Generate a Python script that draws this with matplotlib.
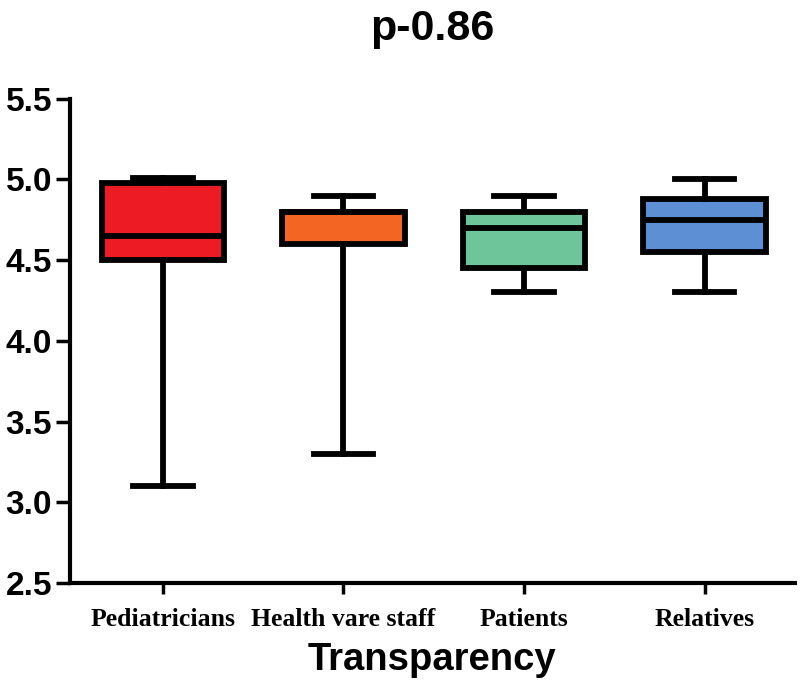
import matplotlib.pyplot as plt
import numpy as np

groups = ["Pediatricians", "Health vare staff", "Patients", "Relatives"]
whislo = [3.10, 3.30, 4.30, 4.30]
q1 = [4.50, 4.60, 4.45, 4.55]
med = [4.65, 4.80, 4.70, 4.75]
q3 = [4.98, 4.80, 4.80, 4.88]
whishi = [5.01, 4.90, 4.90, 5.00]
colors = ["#ED1C24", "#F26522", "#6EC59A", "#5C8FD4"]

stats = []
for i in range(len(groups)):
    stats.append(dict(label=groups[i], whislo=whislo[i], q1=q1[i], med=med[i],
                      q3=q3[i], whishi=whishi[i], fliers=[]))

fig = plt.figure(figsize=(8, 6.9), dpi=100)
ax = fig.add_axes([0.0875, 0.155, 0.906, 0.702])

lw = 4.2
bp = ax.bxp(stats, positions=np.arange(1, 5), widths=0.68, patch_artist=True,
            showfliers=False,
            boxprops=dict(linewidth=lw, edgecolor="black"),
            whiskerprops=dict(linewidth=lw, color="black"),
            capprops=dict(linewidth=lw, color="black"),
            medianprops=dict(linewidth=lw, color="black"),
            capwidths=0.33)
for patch, c in zip(bp["boxes"], colors):
    patch.set_facecolor(c)
    patch.set_joinstyle("miter")

ax.set_xlim(0.485, 4.5)
ax.set_ylim(2.5, 5.5)
ax.set_yticks(np.arange(2.5, 5.51, 0.5))
ax.set_yticklabels(["%.1f" % v for v in np.arange(2.5, 5.51, 0.5)],
                   fontfamily="Liberation Sans", fontweight="bold", fontsize=24)
ax.set_xticks(np.arange(1, 5))
ax.set_xticklabels(groups, fontfamily="Liberation Serif", fontweight="bold", fontsize=18.5)

for s in ["top", "right"]:
    ax.spines[s].set_visible(False)
for s in ["left", "bottom"]:
    ax.spines[s].set_linewidth(3)
ax.tick_params(axis="y", length=10, width=2.5, pad=3)
ax.tick_params(axis="x", length=8, width=2.5, pad=10)

ax.set_xlabel("Transparency", fontfamily="Liberation Sans", fontweight="bold",
              fontsize=27.5, labelpad=8)
ax.set_title("p-0.86", fontfamily="Liberation Sans", fontweight="bold",
             fontsize=31, pad=42)

fig.savefig("out.png", dpi=100)
